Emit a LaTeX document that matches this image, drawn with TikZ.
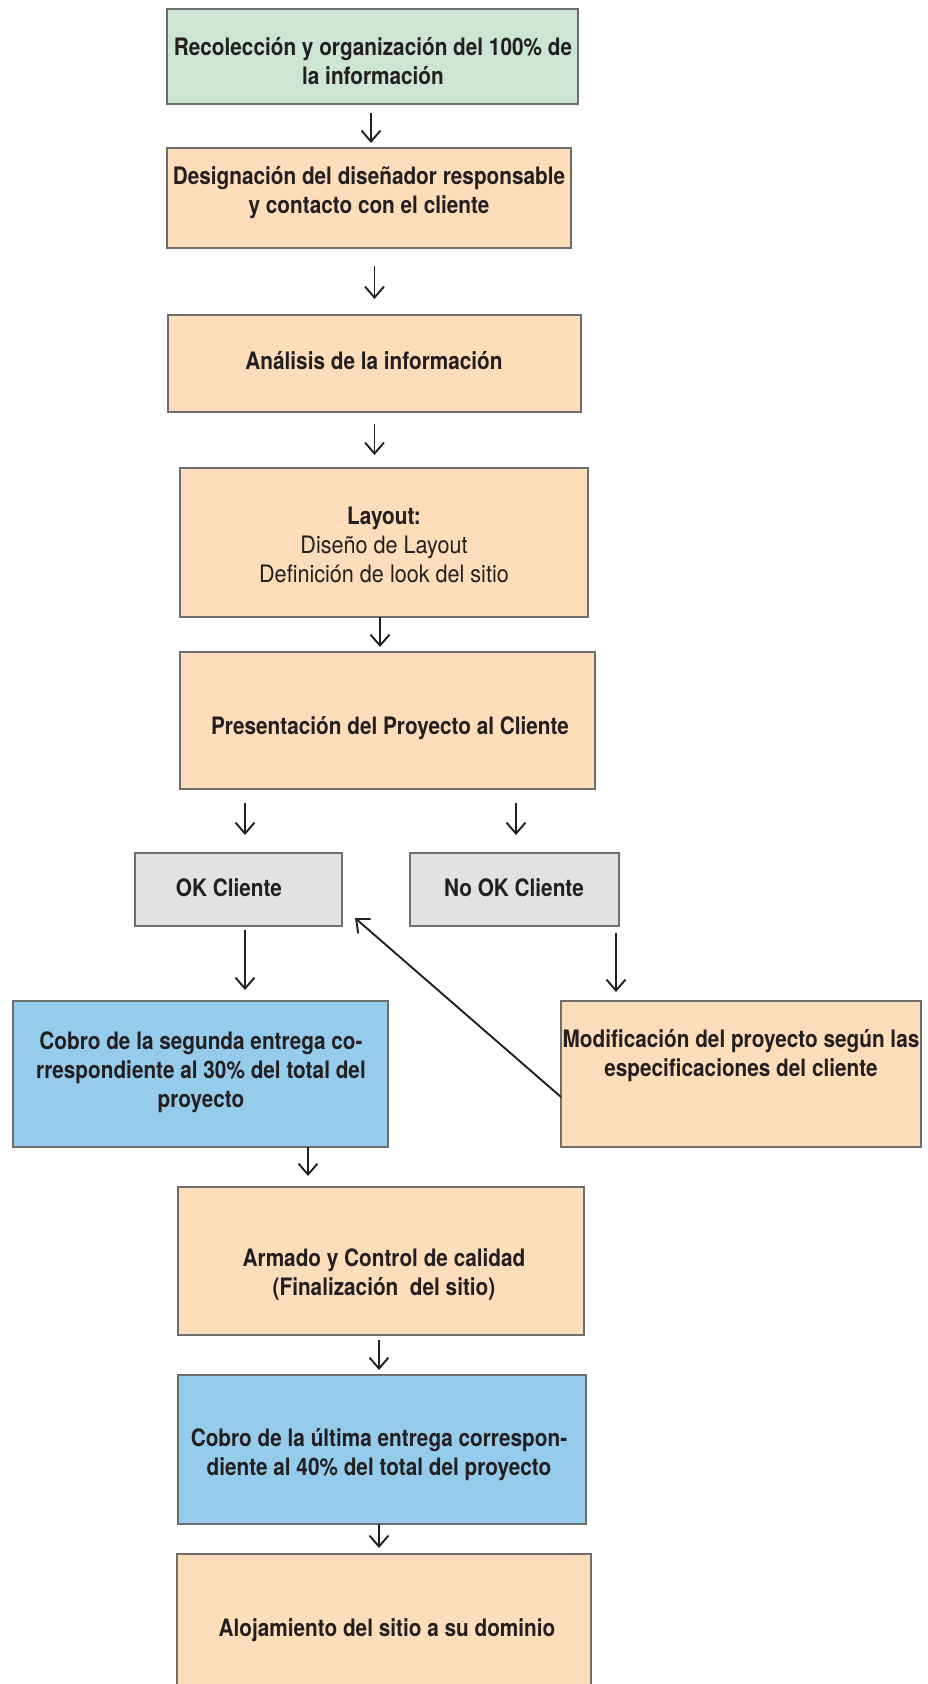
\documentclass[tikz,border=0pt]{standalone}
\usepackage{fontspec}
\setmainfont{TeX Gyre Heros}[UprightFeatures={FakeStretch=0.90}, BoldFeatures={FakeStretch=0.865}]
\usetikzlibrary{arrows.meta}

\definecolor{cgreen}{RGB}{205,230,212}
\definecolor{corange}{RGB}{253,221,186}
\definecolor{cgray}{RGB}{225,226,228}
\definecolor{cblue}{RGB}{149,203,235}
\definecolor{edgegray}{RGB}{110,110,110}
\definecolor{ink}{RGB}{35,31,32}

\begin{document}
\begin{tikzpicture}[x=1pt,y=-1pt,
  box/.style={draw=edgegray, line width=2.4pt, inner sep=0pt, outer sep=0pt},
  lbl/.style={font=\fontsize{24}{29}\selectfont\bfseries, text=ink, align=center, inner sep=0pt},
  arr/.style={draw=ink, line width=1.9pt, -{Straight Barb[length=11pt,width=19pt,line width=1.9pt]}}]

\useasboundingbox[fill=white] (0,0) rectangle (927,1684);

% boxes
\node[box, fill=cgreen,  minimum width=411pt, minimum height=95pt]  (recol)  at (372.5,56.5) {};
\node[box, fill=corange, minimum width=404pt, minimum height=100pt] (desig)  at (369,198) {};
\node[box, fill=corange, minimum width=413pt, minimum height=97pt]  (anal)   at (374.5,363.5) {};
\node[box, fill=corange, minimum width=408pt, minimum height=149pt] (layout) at (384,542.5) {};
\node[box, fill=corange, minimum width=415pt, minimum height=137pt] (pres)   at (387.5,720.5) {};
\node[box, fill=cgray,   minimum width=207pt, minimum height=73pt]  (ok)     at (238.5,889.5) {};
\node[box, fill=cgray,   minimum width=209pt, minimum height=73pt]  (nook)   at (514.5,889.5) {};
\node[box, fill=cblue,   minimum width=375pt, minimum height=146pt] (cobro1) at (200.5,1074) {};
\node[box, fill=corange, minimum width=360pt, minimum height=146pt] (modif)  at (741,1074) {};
\node[box, fill=corange, minimum width=406pt, minimum height=148pt] (armado) at (381,1261) {};
\node[box, fill=cblue,   minimum width=408pt, minimum height=149pt] (cobro2) at (382,1449.5) {};
\node[box, fill=corange, minimum width=414pt, minimum height=156pt] (aloj)   at (384,1632) {};

% labels
\node[lbl] (t-recol)  at (373,61)   {Recolección y organización del 100\% de\\la información};
\node[lbl] (t-desig)  at (369,193)  {Designación del diseñador responsable\\y contacto con el cliente};
\node[lbl] (t-anal)   at (374,361)  {Análisis de la información};
\node[lbl] (t-layout) at (384,545)  {Layout:\\{\mdseries Diseño de Layout}\\{\mdseries Definición de look del sitio}};
\node[lbl] (t-pres)   at (390,728)  {Presentación del Proyecto al Cliente};
\node[lbl] (t-ok)     at (229,888)  {OK Cliente};
\node[lbl] (t-nook)   at (514,888)  {No OK Cliente};
\node[lbl] (t-cobro1) at (201,1072) {Cobro de la segunda entrega co-\\rrespondiente al 30\% del total del\\proyecto};
\node[lbl] (t-modif)  at (741,1056) {Modificación del proyecto según las\\especificaciones del cliente};
\node[lbl] (t-armado) at (384,1274) {Armado y Control de calidad\\(Finalización\ \ del sitio)};
\node[lbl] (t-cobro2) at (379,1455) {Cobro de la última entrega correspon-\\diente al 40\% del total del proyecto};
\node[lbl] (t-aloj)   at (387,1630) {Alojamiento del sitio a su dominio};

% connectors
\draw[arr, shorten <=9pt, shorten >=5pt] ([xshift=-1.5pt]recol.south) -- ([xshift=-1.5pt]recol.south |- desig.north);
\draw[arr, shorten <=18pt, shorten >=16pt] (desig.south -| anal.north) -- (anal.north);
\draw[arr, shorten <=12pt, shorten >=13pt] (anal.south) -- (anal.south |- layout.north);
\draw[arr, shorten >=5pt] ([xshift=-4pt]layout.south) -- ([xshift=-4pt]layout.south |- pres.north);
\draw[arr, shorten <=14pt, shorten >=18pt] ([xshift=6.5pt]ok.north |- pres.south) -- ([xshift=6.5pt]ok.north);
\draw[arr, shorten <=14pt, shorten >=18pt] ([xshift=1.5pt]nook.north |- pres.south) -- ([xshift=1.5pt]nook.north);
\draw[arr, shorten <=4pt, shorten >=11pt] ([xshift=6.5pt]ok.south) -- ([xshift=6.5pt]ok.south |- cobro1.north);
\draw[arr, shorten <=7pt, shorten >=9pt] ([xshift=-3pt]nook.south east) -- ([xshift=-3pt]nook.south east |- modif.north);
\draw[arr] ([yshift=-23pt]modif.west) -- ([xshift=13pt,yshift=8pt]ok.south east);
\draw[arr, shorten >=11pt] ([xshift=107.5pt]cobro1.south) -- ([xshift=107.5pt]cobro1.south |- armado.north);
\draw[arr, shorten <=5pt, shorten >=5pt] ([xshift=-2pt]armado.south) -- ([xshift=-2pt]armado.south |- cobro2.north);
\draw[arr, shorten >=6pt] ([xshift=-3pt]cobro2.south) -- ([xshift=-3pt]cobro2.south |- aloj.north);

\end{tikzpicture}
\end{document}
